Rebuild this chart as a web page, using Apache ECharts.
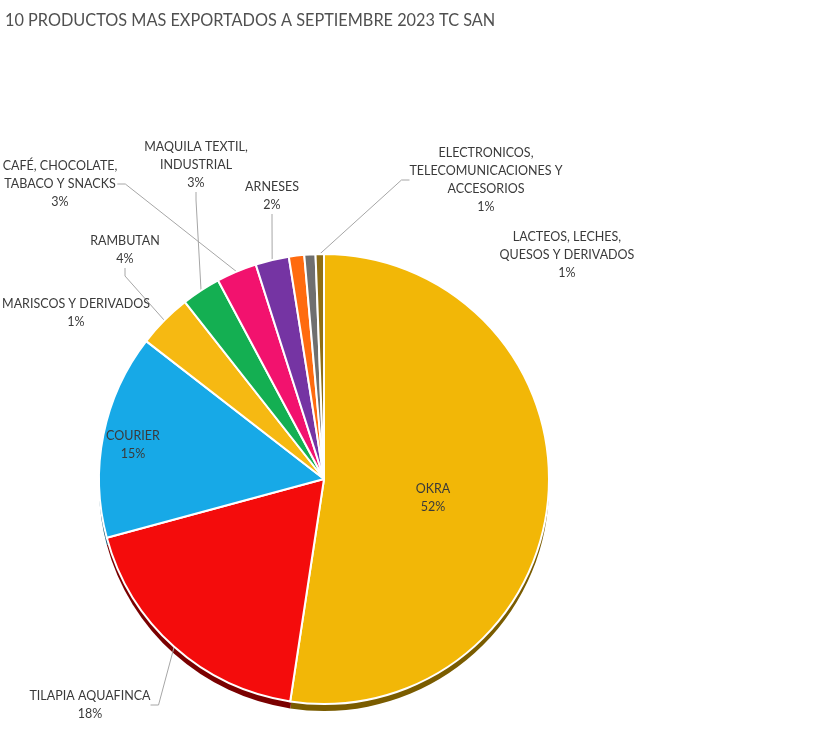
<!DOCTYPE html>
<html>
<head>
<meta charset="utf-8">
<script src="https://cdn.jsdelivr.net/npm/echarts@6/dist/echarts.min.js"></script>
<style>html,body{margin:0;padding:0;background:#fff}#c{width:817px;height:736px}</style>
</head>
<body>
<div id="c"></div>
<script>
// ---- data ----
const titleText = '10 PRODUCTOS MAS EXPORTADOS A SEPTIEMBRE 2023 TC SAN';
const categories = [
  'OKRA',
  'TILAPIA AQUAFINCA',
  'COURIER',
  'RAMBUTAN',
  'MAQUILA TEXTIL,\nINDUSTRIAL',
  'CAFÉ, CHOCOLATE,\nTABACO Y SNACKS',
  'ARNESES',
  'MARISCOS Y DERIVADOS',
  'LACTEOS, LECHES,\nQUESOS Y DERIVADOS',
  'ELECTRONICOS,\nTELECOMUNICACIONES Y\nACCESORIOS'
];
const values = [52.4, 18.4, 14.7, 3.9, 2.8, 2.9, 2.4, 1.1, 0.8, 0.6];

// ---- styles / layout ----
const colors = ['#F2B707', '#F40C0C', '#17A9E7', '#F6B912', '#14AF52', '#F2126E', '#7534A3', '#FF6B0F', '#6F6F6F', '#8E6E16'];
const rimColors = ['#7A5C00', '#7A0000', '#0B5574', '#7B5D09', '#0A5829', '#790937', '#3A1A52', '#803608', '#383838', '#47370B'];
const labelPos = [
  [433, 498], [90, 705], [133, 445], [125, 250], [196, 165],
  [60, 184], [272, 196], [76, 313], [567, 255], [486, 180]
];
const showLine = [false, true, false, true, true, true, true, false, false, true];
const CX = 324, CY = 479, R = 225;

const chart = echarts.init(document.getElementById('c'), null, {renderer: 'canvas'});
const fontFamily = 'Lato, "Open Sans", sans-serif';

const topData = categories.map((n, i) => ({
  name: n, value: values[i],
  itemStyle: {color: colors[i]},
  labelLine: {show: showLine[i]}
}));
const rimData = categories.map((n, i) => ({
  name: n, value: values[i], itemStyle: {color: rimColors[i]}
}));

chart.setOption({
  animation: false,
  title: {
    text: titleText, left: 0, top: 8,
    textStyle: {fontFamily, fontSize: 16.3, fontWeight: 'normal', color: '#505050'}
  },
  series: [
    {
      type: 'pie', silent: true, center: [CX, CY + 7], radius: R,
      startAngle: 90, clockwise: true,
      label: {show: false}, labelLine: {show: false},
      itemStyle: {borderColor: '#fff', borderWidth: 0},
      data: rimData, z: 1
    },
    {
      type: 'pie', center: [CX, CY], radius: R,
      startAngle: 90, clockwise: true,
      avoidLabelOverlap: false,
      itemStyle: {borderColor: '#fff', borderWidth: 2},
      label: {
        show: true, position: 'outside',
        fontFamily, fontSize: 12.5, color: '#3a3a3a', lineHeight: 18, align: 'center',
        formatter: p => p.name + '\n' + Math.round(p.percent) + '%'
      },
      labelLine: {show: true, length: 10, length2: 8, smooth: false, lineStyle: {color: '#a6a6a6', width: 1}},
      labelLayout: function (params) {
        const p = labelPos[params.dataIndex];
        return {x: p[0], y: p[1], align: 'center', verticalAlign: 'middle', hideOverlap: false};
      },
      data: topData, z: 2
    }
  ]
});
</script>
</body>
</html>
